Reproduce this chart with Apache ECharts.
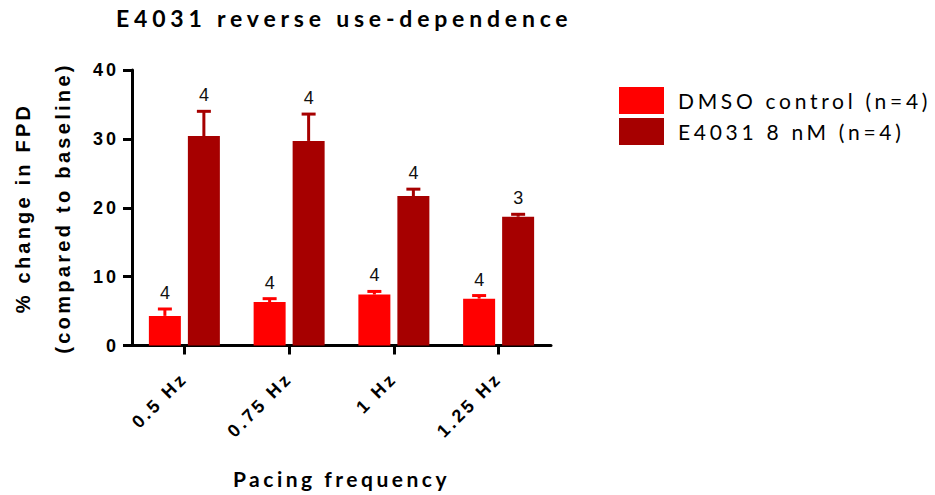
<!DOCTYPE html>
<html>
<head>
<meta charset="utf-8">
<script src="https://cdn.jsdelivr.net/npm/echarts@6/dist/echarts.min.js"></script>
<style>
  html, body { margin: 0; padding: 0; background: #fff; }
  #chart { width: 935px; height: 495px; }
</style>
</head>
<body>
<div id="chart"></div>
<script>
// Pacing frequencies on the x axis
const categories = ['0.5 Hz', '0.75 Hz', '1 Hz', '1.25 Hz'];
const yTicks = [0, 10, 20, 30, 40];

// % change in FPD: mean, SEM and n per frequency
const dmsoName = 'DMSO control (n=4)';
const dmsoMean = [4.3, 6.3, 7.4, 6.8];
const dmsoSem  = [1.0, 0.5, 0.45, 0.45];
const dmsoN    = [4, 4, 4, 4];

const e4031Name = 'E4031 8 nM (n=4)';
const e4031Mean = [30.4, 29.7, 21.7, 18.7];
const e4031Sem  = [3.6, 3.9, 1.0, 0.35];
const e4031N    = [4, 4, 4, 3];

const titleText = 'E4031 reverse use-dependence';
const xName = 'Pacing frequency';
const yName1 = '% change in FPD';
const yName2 = '(compared to baseline)';

const RED = '#FF0000';
const DARK = '#A60000';
const BAR_W = 32;
const BAR_GAP = 7;

const chart = echarts.init(document.getElementById('chart'), null, { renderer: 'svg' });

// Upward SEM whisker with cap, and the n count above it
function errorSeries(means, sems, ns, color, offset) {
  return {
    type: 'custom',
    coordinateSystem: 'cartesian2d',
    z: 3,
    silent: true,
    data: means.map((m, i) => [i, m, m + sems[i], ns[i]]),
    encode: { x: 0, y: 2 },
    renderItem(params, api) {
      const i = api.value(0);
      const base = api.coord([i, api.value(1)]);
      const top = api.coord([i, api.value(2)]);
      const x = base[0] + offset;
      return {
        type: 'group',
        children: [
          { type: 'line', shape: { x1: x, y1: base[1], x2: x, y2: top[1] },
            style: { stroke: color, lineWidth: 3 } },
          { type: 'line', shape: { x1: x - 7, y1: top[1], x2: x + 7, y2: top[1] },
            style: { stroke: color, lineWidth: 3 } },
          { type: 'text', x: x, y: top[1] - 7,
            style: { text: String(api.value(3)), textAlign: 'center', textVerticalAlign: 'bottom',
                     font: '18px "Liberation Sans"', fill: '#111' } }
        ]
      };
    }
  };
}

const halfStep = (BAR_W + BAR_GAP) / 2;

chart.setOption({
  animation: false,
  backgroundColor: '#fff',
  title: {
    text: titleText,
    left: 111,
    top: 1,
    textStyle: { fontFamily: 'Lato', fontWeight: 'bold', fontSize: 23, color: '#000' }
  },
  legend: {
    orient: 'vertical',
    left: 614,
    top: 82,
    itemWidth: 45,
    itemHeight: 27,
    itemGap: 4,
    icon: 'rect',
    selectedMode: false,
    data: [dmsoName, e4031Name],
    textStyle: { fontFamily: 'Lato', fontSize: 21, color: '#000', padding: [2, 0, 0, 9] }
  },
  grid: { left: 132, right: 384, top: 70, bottom: 149.5, containLabel: false },
  xAxis: {
    type: 'category',
    data: categories,
    name: xName,
    nameLocation: 'middle',
    nameGap: 133,
    nameTextStyle: { fontFamily: 'Lato', fontWeight: 'bold', fontSize: 21, color: '#000', verticalAlign: 'middle' },
    axisLine: { show: true, lineStyle: { color: '#000', width: 3 } },
    axisTick: { show: true, alignWithLabel: true, length: 9, lineStyle: { color: '#000', width: 3 } },
    axisLabel: { rotate: 45, margin: 30, interval: 0, fontFamily: 'Liberation Sans', fontWeight: 'bold', fontSize: 18, color: '#000' }
  },
  yAxis: {
    type: 'value',
    min: yTicks[0],
    max: yTicks[yTicks.length - 1],
    interval: yTicks[1] - yTicks[0],
    axisLine: { show: true, lineStyle: { color: '#000', width: 3 } },
    axisTick: { show: true, length: 9, lineStyle: { color: '#000', width: 3 } },
    splitLine: { show: false },
    axisLabel: { margin: 13, fontFamily: 'Liberation Sans', fontWeight: 'bold', fontSize: 18, color: '#000' }
  },
  graphic: [
    { type: 'text', x: 23, y: 208, rotation: Math.PI / 2,
      style: { text: yName1, textAlign: 'center', textVerticalAlign: 'middle',
               font: 'bold 20px "Liberation Sans"', fill: '#000' } },
    { type: 'text', x: 63, y: 208, rotation: Math.PI / 2,
      style: { text: yName2, textAlign: 'center', textVerticalAlign: 'middle',
               font: 'bold 20px "Liberation Sans"', fill: '#000' } }
  ],
  series: [
    { name: dmsoName, type: 'bar', data: dmsoMean, barWidth: BAR_W,
      barGap: (BAR_GAP / BAR_W * 100) + '%', itemStyle: { color: RED } },
    { name: e4031Name, type: 'bar', data: e4031Mean, barWidth: BAR_W,
      itemStyle: { color: DARK } },
    errorSeries(dmsoMean, dmsoSem, dmsoN, RED, -halfStep),
    errorSeries(e4031Mean, e4031Sem, e4031N, DARK, halfStep)
  ]
});

// Wide tracking on the headings, legend and axis text
const tracking = new Map([
  [titleText, 4.8],
  [dmsoName, 3.7],
  [e4031Name, 3.7],
  [xName, 3.5],
  [yName1, 3.2],
  [yName2, 3.3]
]);
categories.forEach(c => tracking.set(c, 3));
yTicks.forEach(t => tracking.set(String(t), 3));

function applyTracking() {
  document.querySelectorAll('#chart text').forEach(el => {
    const s = tracking.get(el.textContent);
    if (s != null && el.getAttribute('letter-spacing') !== String(s)) {
      el.setAttribute('letter-spacing', s);
    }
  });
}
chart.on('rendered', applyTracking);
applyTracking();
</script>
</body>
</html>
